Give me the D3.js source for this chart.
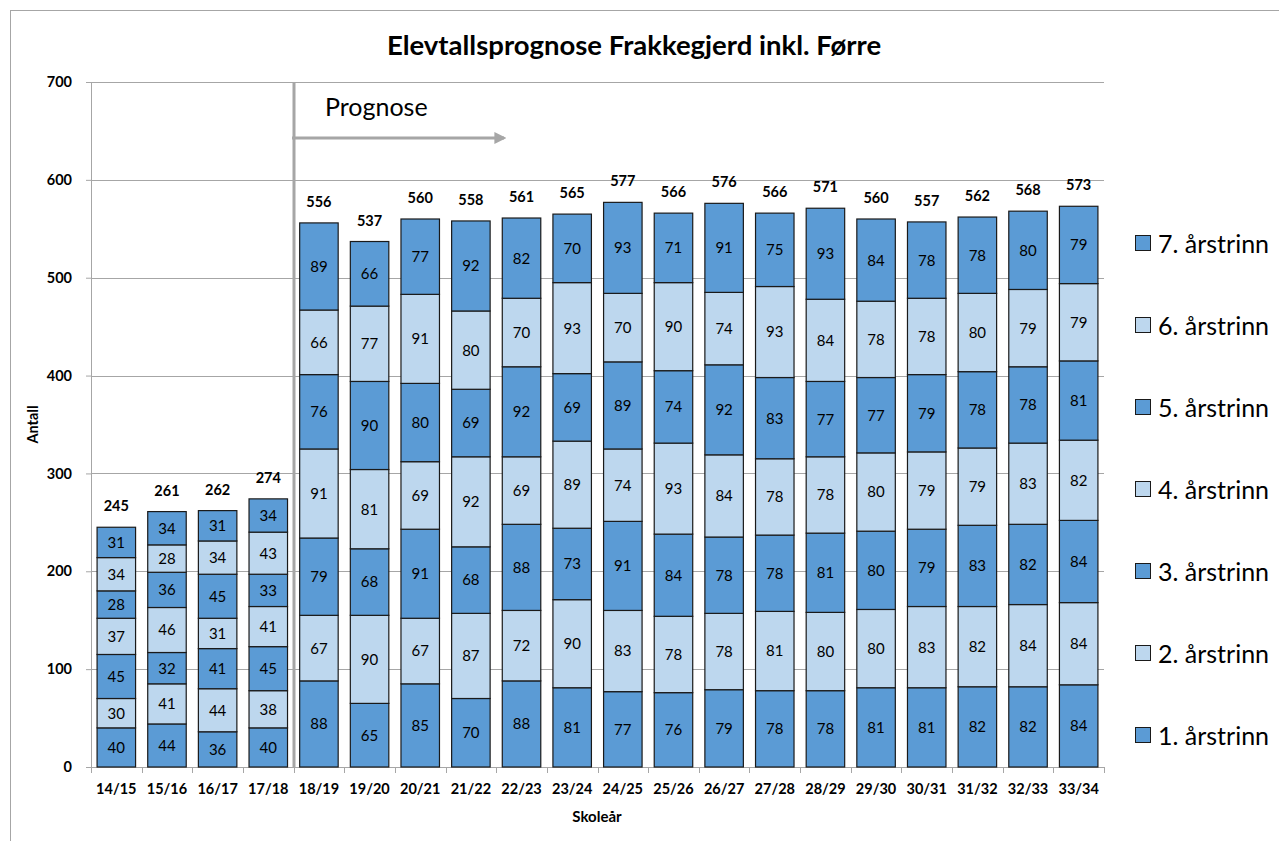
<!DOCTYPE html>
<html>
<head>
<meta charset="utf-8">
<script src="https://cdn.jsdelivr.net/npm/d3@7"></script>
<style>
  body { margin: 0; background: #fff; }
  svg { font-family: Lato, "Open Sans", sans-serif; }
</style>
</head>
<body>
<div id="chart"></div>
<script>
// school years
var years = ["14/15","15/16","16/17","17/18","18/19","19/20","20/21","21/22","22/23","23/24",
             "24/25","25/26","26/27","27/28","28/29","29/30","30/31","31/32","32/33","33/34"];

var seriesNames = ["1. årstrinn","2. årstrinn","3. årstrinn","4. årstrinn","5. årstrinn","6. årstrinn","7. årstrinn"];

var trinn1 = [40,44,36,40,88,65,85,70,88,81,77,76,79,78,78,81,81,82,82,84];
var trinn2 = [30,41,44,38,67,90,67,87,72,90,83,78,78,81,80,80,83,82,84,84];
var trinn3 = [45,32,41,45,79,68,91,68,88,73,91,84,78,78,81,80,79,83,82,84];
var trinn4 = [37,46,31,41,91,81,69,92,69,89,74,93,84,78,78,80,79,79,83,82];
var trinn5 = [28,36,45,33,76,90,80,69,92,69,89,74,92,83,77,77,79,78,78,81];
var trinn6 = [34,28,34,43,66,77,91,80,70,93,70,90,74,93,84,78,78,80,79,79];
var trinn7 = [31,34,31,34,89,66,77,92,82,70,93,71,91,75,93,84,78,78,80,79];

var totals = [245,261,262,274,556,537,560,558,561,565,577,566,576,566,571,560,557,562,568,573];

var yTicks = [0,100,200,300,400,500,600,700];

var series = [trinn1, trinn2, trinn3, trinn4, trinn5, trinn6, trinn7];

// build table for d3.stack
var table = years.map(function(y, i) {
  var row = {year: y};
  seriesNames.forEach(function(s, j) { row[s] = series[j][i]; });
  return row;
});

var W = 1279, H = 841;
var margin = {top: 82, right: 175, bottom: 74, left: 91},
    width = W - margin.left - margin.right,
    height = H - margin.top - margin.bottom;

var svg = d3.select("#chart").append("svg")
    .attr("width", W)
    .attr("height", H);

// outer chart frame
svg.append("rect")
    .attr("x", 10.5).attr("y", 10.5)
    .attr("width", W).attr("height", H)
    .attr("fill", "none")
    .attr("stroke", "#a6a6a6");

var g = svg.append("g")
    .attr("transform", "translate(" + margin.left + "," + margin.top + ")");

var x = d3.scaleBand()
    .domain(years)
    .range([0, width])
    .paddingInner(0.24)
    .paddingOuter(0.12);

var y = d3.scaleLinear()
    .domain([0, 700])
    .range([height, 0]);

var colors = {
  "1. årstrinn": "#5b9bd5", "2. årstrinn": "#bdd7ee", "3. årstrinn": "#5b9bd5",
  "4. årstrinn": "#bdd7ee", "5. årstrinn": "#5b9bd5", "6. årstrinn": "#bdd7ee",
  "7. årstrinn": "#5b9bd5"
};

// gridlines
g.append("g")
  .selectAll("line")
  .data(yTicks)
  .enter().append("line")
    .attr("x1", 0).attr("x2", width)
    .attr("y1", function(d) { return Math.round(y(d)) + 0.5; })
    .attr("y2", function(d) { return Math.round(y(d)) + 0.5; })
    .attr("stroke", "#a6a6a6")
    .attr("stroke-width", 1);

// y axis
var yAxis = g.append("g")
    .call(d3.axisLeft(y).tickValues(yTicks).tickSize(5).tickPadding(14));
yAxis.select(".domain").attr("stroke", "#a6a6a6");
yAxis.selectAll(".tick line").attr("stroke", "#a6a6a6");
yAxis.selectAll("text")
    .attr("font-size", 14.5).attr("font-weight", "bold").attr("fill", "#000")
    .attr("font-family", "Lato, sans-serif");

// x axis
var xAxis = g.append("g")
    .attr("transform", "translate(0," + height + ")")
    .call(d3.axisBottom(x).tickSize(0).tickPadding(17));
xAxis.select(".domain").attr("stroke", "#a6a6a6");
xAxis.selectAll("text")
    .attr("font-size", 14.5).attr("font-weight", "bold").attr("fill", "#000")
    .attr("font-family", "Lato, sans-serif");

// category separator ticks on the x axis
g.append("g")
  .selectAll("line")
  .data(d3.range(years.length + 1))
  .enter().append("line")
    .attr("x1", function(i) { return Math.round(i * width / years.length) + 0.5; })
    .attr("x2", function(i) { return Math.round(i * width / years.length) + 0.5; })
    .attr("y1", height).attr("y2", height + 6)
    .attr("stroke", "#a6a6a6");

// stacked bars
var stacked = d3.stack().keys(seriesNames)(table);

var layers = g.append("g")
  .selectAll("g")
  .data(stacked)
  .enter().append("g")
    .attr("fill", function(d) { return colors[d.key]; });

layers.selectAll("rect")
  .data(function(d) { return d; })
  .enter().append("rect")
    .attr("x", function(d) { return x(d.data.year); })
    .attr("y", function(d) { return y(d[1]); })
    .attr("width", x.bandwidth())
    .attr("height", function(d) { return y(d[0]) - y(d[1]); })
    .attr("stroke", "#1a1a1a")
    .attr("stroke-width", 1.2);

layers.selectAll("text")
  .data(function(d) { return d; })
  .enter().append("text")
    .attr("x", function(d) { return x(d.data.year) + x.bandwidth() / 2; })
    .attr("y", function(d) { return (y(d[0]) + y(d[1])) / 2; })
    .attr("dy", "0.36em")
    .attr("text-anchor", "middle")
    .attr("font-size", 15)
    .attr("fill", "#000")
    .text(function(d) { return d[1] - d[0]; });

// totals above bars
g.append("g")
  .selectAll("text")
  .data(totals)
  .enter().append("text")
    .attr("x", function(d, i) { return x(years[i]) + x.bandwidth() / 2; })
    .attr("y", function(d, i) { return y(d) - 16; })
    .attr("text-anchor", "middle")
    .attr("font-size", 14.5)
    .attr("font-weight", "bold")
    .attr("fill", "#000")
    .text(function(d) { return d; });

// prognose marker
var px = Math.round(4 * width / years.length);
g.append("line")
    .attr("x1", px).attr("x2", px)
    .attr("y1", 0).attr("y2", height)
    .attr("stroke", "#a6a6a6")
    .attr("stroke-width", 3);

svg.append("defs").append("marker")
    .attr("id", "arrow")
    .attr("viewBox", "0 0 10 10")
    .attr("refX", 8).attr("refY", 5)
    .attr("markerWidth", 4).attr("markerHeight", 4)
    .attr("orient", "auto")
  .append("path")
    .attr("d", "M0,0 L10,5 L0,10 z")
    .attr("fill", "#a6a6a6");

g.append("line")
    .attr("x1", px - 2).attr("x2", px + 210)
    .attr("y1", 56).attr("y2", 56)
    .attr("stroke", "#a6a6a6")
    .attr("stroke-width", 3)
    .attr("marker-end", "url(#arrow)");

g.append("text")
    .attr("x", px + 31).attr("y", 34)
    .attr("font-size", 25)
    .attr("fill", "#000")
    .text("Prognose");

// title
svg.append("text")
    .attr("x", 634).attr("y", 55)
    .attr("text-anchor", "middle")
    .attr("font-size", 27.5)
    .attr("font-weight", "bold")
    .text("Elevtallsprognose Frakkegjerd inkl. Førre");

// axis titles
svg.append("text")
    .attr("transform", "translate(38," + (margin.top + height / 2) + ") rotate(-90)")
    .attr("text-anchor", "middle")
    .attr("font-size", 14.5)
    .attr("font-weight", "bold")
    .text("Antall");

svg.append("text")
    .attr("x", 597).attr("y", 822)
    .attr("text-anchor", "middle")
    .attr("font-size", 15)
    .attr("font-weight", "bold")
    .text("Skoleår");

// legend (7 at top)
var legend = svg.append("g")
  .selectAll("g")
  .data(seriesNames.slice().reverse())
  .enter().append("g")
    .attr("transform", function(d, i) { return "translate(1135," + (243 + i * 82) + ")"; });

legend.append("rect")
    .attr("x", 0.5).attr("y", -7.5)
    .attr("width", 15).attr("height", 15)
    .attr("fill", function(d) { return colors[d]; })
    .attr("stroke", "#1a1a1a");

legend.append("text")
    .attr("x", 23).attr("y", 1)
    .attr("dy", "0.35em")
    .attr("font-size", 25)
    .text(function(d) { return d; });
</script>
</body>
</html>
